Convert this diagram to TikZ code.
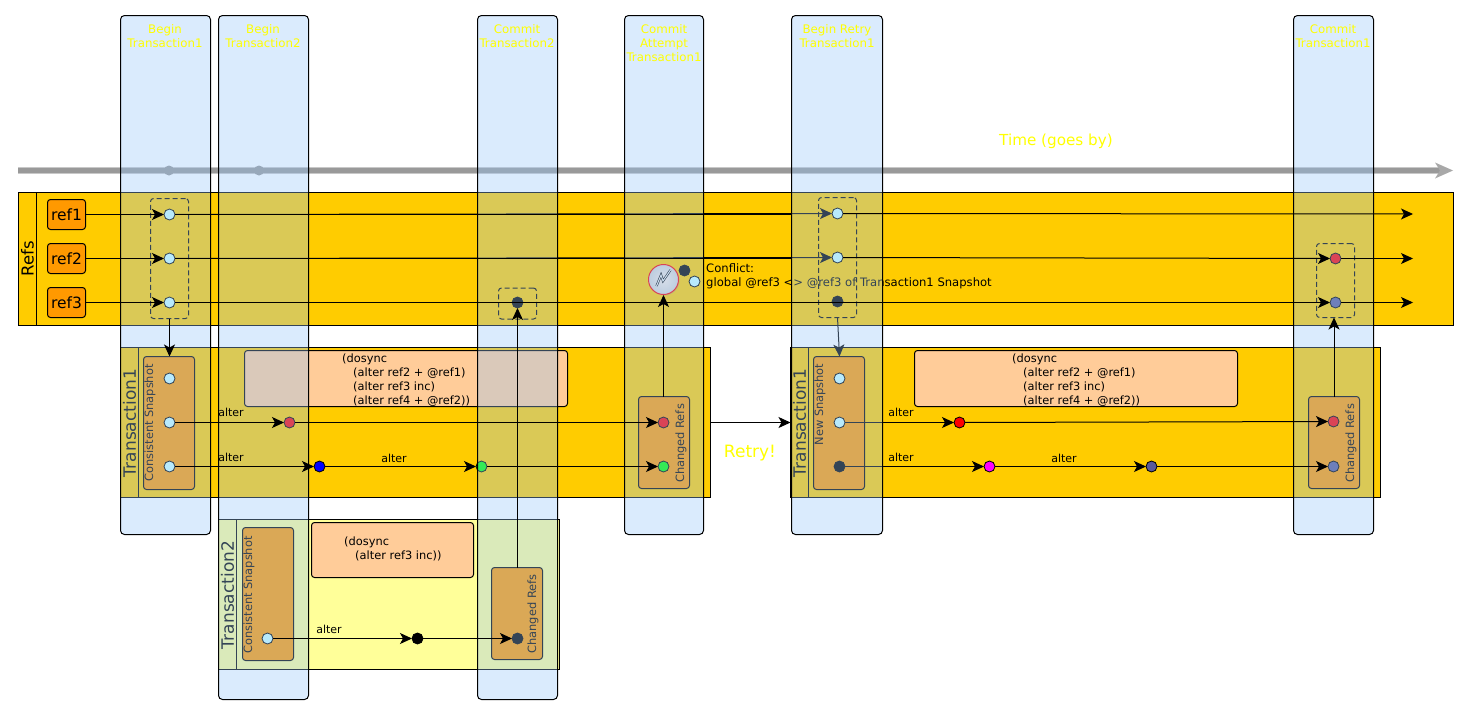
\documentclass[tikz,border=0pt]{standalone}
\usepackage{fontspec}
\setmainfont{DejaVu Sans}
\usepackage{xcolor}
\usepackage{tikz}
\usetikzlibrary{arrows.meta,shadows}

\definecolor{lanefill}{HTML}{FFCC00}
\definecolor{reffill}{HTML}{FF9900}
\definecolor{codefill}{HTML}{FFCC99}
\definecolor{laneyellow}{HTML}{FFFF99}
\definecolor{colfill}{RGB}{149,197,249}
\definecolor{dotlight}{HTML}{CCFFFF}
\definecolor{dotslate}{HTML}{5A5A9A}
\definecolor{dotmagenta}{RGB}{255,0,255}
\definecolor{textyellow}{RGB}{255,255,0}
\definecolor{timegray}{HTML}{999999}
\definecolor{timehalo}{HTML}{C8C8C8}

\tikzset{
    base/.style={inner sep=0pt,outer sep=0pt,anchor=north west,line width=1pt,draw=black},
    lane/.style={base,fill=lanefill},
    refbox/.style={base,fill=reffill,rounded corners=3pt,font=\fontsize{15.5}{15.5}\selectfont},
    groupbox/.style={base,fill=reffill,rounded corners=3pt},
    codebox/.style={base,fill=codefill,rounded corners=3pt},
    dashbox/.style={base,dashed,dash pattern=on 5pt off 3pt,rounded corners=3pt},
    colbox/.style={base,fill=colfill,fill opacity=0.35,rounded corners=4pt},
    coltitle/.style={textyellow,align=center,font=\fontsize{11.8}{14}\selectfont,inner sep=0pt},
    dot/.style={circle,draw=black,line width=0.8pt,minimum size=11pt,inner sep=0pt,outer sep=0pt,fill=#1},
    code/.style={align=left,anchor=north west,inner sep=0pt,font=\fontsize{11.4}{14}\selectfont},
    small/.style={inner sep=0pt,font=\fontsize{11}{14}\selectfont},
    sidetext/.style={rotate=90,inner sep=0pt,font=\fontsize{11.4}{11.4}\selectfont},
    lanetitle/.style={rotate=90,inner sep=0pt,font=\fontsize{17}{17}\selectfont},
    flow/.style={line width=1pt,-{Stealth[length=12pt,width=11pt,inset=3pt]}},
    timeline/.style={line width=#1,line cap=butt},
}

\begin{document}
\begin{tikzpicture}[x=1pt,y=-1pt]
    \useasboundingbox (0,0) rectangle (1472,715);

    % Time arrow
    \coordinate (timestart) at (18,170.5);
    \coordinate (timeneck) at (1440,170.5);
    \draw[timeline=7.5pt,timehalo] (timestart) -- (timeneck);
    \draw[timeline=5.5pt,timegray] (timestart) -- (timeneck);
    \fill[timegray!85] (1435,162.5) -- (1453,170.5) -- (1435,178.5) -- (1440,170.5) -- cycle;
    \node[circle,fill=timegray,minimum size=10pt,inner sep=0pt] (tick1) at (169,170.5) {};
    \node[circle,fill=timegray,minimum size=10pt,inner sep=0pt] (tick2) at (259,170.5) {};
    \node[textyellow,inner sep=0pt,font=\fontsize{15.2}{15.2}\selectfont] (timelabel) at (1056,141) {Time (goes by)};

    % Refs lane
    \node[lane,minimum width=1435pt,minimum height=133pt] (refs) at (18.5,192.5) {};
    \coordinate (refsheadtop) at (36.5,192.5);
    \coordinate (refsheadbot) at (36.5,325.5);
    \draw[line width=1pt] (refsheadtop) -- (refsheadbot);
    \node[lanetitle,font=\fontsize{16.5}{16.5}\selectfont] (refstitle) at (27.5,258.5) {Refs};
    \node[refbox,minimum width=38pt,minimum height=30pt] (ref1) at (47.5,199.5) {ref1};
    \node[refbox,minimum width=38pt,minimum height=30pt] (ref2) at (47.5,243.5) {ref2};
    \node[refbox,minimum width=38pt,minimum height=30pt] (ref3) at (47.5,287.5) {ref3};

    % Transaction1, first try
    \node[lane,minimum width=590pt,minimum height=150pt] (tx1) at (120.5,347.5) {};
    \coordinate (tx1headtop) at (138.5,347.5);
    \coordinate (tx1headbot) at (138.5,497.5);
    \draw[line width=1pt] (tx1headtop) -- (tx1headbot);
    \node[lanetitle] (tx1title) at (129.5,423) {Transaction1};
    \node[groupbox,minimum width=51pt,minimum height=133pt] (snap1) at (143.5,356.5) {};
    \node[sidetext] (snap1text) at (150,423) {Consistent Snapshot};
    \node[groupbox,minimum width=51pt,minimum height=92pt] (changed1) at (638.5,396.5) {};
    \node[sidetext] (changed1text) at (681,443.5) {Changed Refs};
    \node[codebox,minimum width=323pt,minimum height=56pt] (code1) at (244.5,350.5) {};
    \node[code] (code1text) at (342,353.5) {(dosync\\\hspace{11pt}(alter ref2 + @ref1)\\\hspace{11pt}(alter ref3 inc)\\\hspace{11pt}(alter ref4 + @ref2))};

    % Transaction1, retry
    \node[lane,minimum width=590pt,minimum height=150pt] (tx3) at (790.5,347.5) {};
    \coordinate (tx3headtop) at (808.5,347.5);
    \coordinate (tx3headbot) at (808.5,497.5);
    \draw[line width=1pt] (tx3headtop) -- (tx3headbot);
    \node[lanetitle] (tx3title) at (799.5,423) {Transaction1};
    \node[groupbox,minimum width=51pt,minimum height=133pt] (snap3) at (813.5,356.5) {};
    \node[sidetext] (snap3text) at (820,404.5) {New Snapshot};
    \node[groupbox,minimum width=51pt,minimum height=92pt] (changed3) at (1308.5,396.5) {};
    \node[sidetext] (changed3text) at (1351,443.5) {Changed Refs};
    \node[codebox,minimum width=323pt,minimum height=56pt] (code3) at (914.5,350.5) {};
    \node[code] (code3text) at (1012,353.5) {(dosync\\\hspace{11pt}(alter ref2 + @ref1)\\\hspace{11pt}(alter ref3 inc)\\\hspace{11pt}(alter ref4 + @ref2))};

    % Transaction2
    \node[base,fill=laneyellow,minimum width=341pt,minimum height=150pt] (tx2) at (218.5,519.5) {};
    \coordinate (tx2headtop) at (236.5,519.5);
    \coordinate (tx2headbot) at (236.5,669.5);
    \draw[line width=1pt] (tx2headtop) -- (tx2headbot);
    \node[lanetitle] (tx2title) at (227.5,595) {Transaction2};
    \node[groupbox,minimum width=51pt,minimum height=133pt] (snap2) at (242.5,527.5) {};
    \node[sidetext] (snap2text) at (249,595) {Consistent Snapshot};
    \node[groupbox,minimum width=51pt,minimum height=92pt] (changed2) at (491.5,567.5) {};
    \node[sidetext] (changed2text) at (533,614) {Changed Refs};
    \node[codebox,minimum width=162pt,minimum height=55pt] (code2) at (311.5,522.5) {};
    \node[code] (code2text) at (344,537) {(dosync\\\hspace{11pt}(alter ref3 inc))};

    % Dashed snapshots on the refs
    \node[dashbox,minimum width=38pt,minimum height=120pt] (snapa) at (150.5,198.5) {};
    \node[dashbox,minimum width=38pt,minimum height=31pt] (snapb) at (498.5,288) {};
    \node[dashbox,minimum width=38pt,minimum height=120pt] (snapc) at (818.5,197.5) {};
    \node[dashbox,minimum width=38pt,minimum height=74pt] (snapd) at (1316.5,243.5) {};

    % Dots on the refs
    \node[dot=dotlight] (a1) at (169.5,214.5) {};
    \node[dot=dotlight] (a2) at (169.5,258.5) {};
    \node[dot=dotlight] (a3) at (169.5,302.5) {};
    \node[dot=black] (b3) at (517.5,302.5) {};
    \node[dot=dotlight] (c1) at (837.5,213.5) {};
    \node[dot=dotlight] (c2) at (837.5,257.5) {};
    \node[dot=black] (c3) at (837.5,301.5) {};
    \node[dot=red] (d2) at (1335.5,258.5) {};
    \node[dot=dotslate] (d3) at (1335.5,302.5) {};
    \coordinate (end1) at (1413,214);
    \coordinate (end2) at (1413,258.5);
    \coordinate (end3) at (1413,302.5);

    % Conflict
    \node[circle,draw=red,line width=1pt,minimum size=30pt,inner sep=0pt,inner color={rgb,255:red,250;green,235;blue,225},outer color=gray!35,drop shadow={shadow xshift=1pt,shadow yshift=-1pt,opacity=0.3}] (conflict) at (663.5,279.5) {};
    \draw[line width=0.6pt,black,double=gray!15,double distance=1pt,line join=miter] (656.5,286) -- (661,275) -- (663,281) -- (670.5,270);
    \node[dot=black] (conflictdark) at (684.5,270.5) {};
    \node[dot=dotlight] (conflictlight) at (694.5,281.5) {};
    \node[code,font=\fontsize{11.6}{14}\selectfont] (conflicttext) at (706,263.5) {Conflict:\\global @ref3 <> @ref3 of Transaction1 Snapshot};

    % First try dots
    \node[dot=dotlight] (s11) at (169.5,378.5) {};
    \node[dot=dotlight] (s12) at (169.5,422.5) {};
    \node[dot=dotlight] (s13) at (169.5,466.5) {};
    \node[dot=red] (m12) at (289.5,422.5) {};
    \node[dot=blue] (m13) at (319.5,466.5) {};
    \node[dot=green] (n13) at (481.5,466.5) {};
    \node[dot=red] (e12) at (663.5,422.5) {};
    \node[dot=green] (e13) at (663.5,466.5) {};

    % Retry dots
    \node[dot=dotlight] (s31) at (839.5,378.5) {};
    \node[dot=dotlight] (s32) at (839.5,422.5) {};
    \node[dot=black] (s33) at (839.5,466.5) {};
    \node[dot=red] (m32) at (959.5,422.5) {};
    \node[dot=dotmagenta] (m33) at (989.5,466.5) {};
    \node[dot=dotslate] (n33) at (1151.5,466.5) {};
    \node[dot=red] (e32) at (1333.5,421.5) {};
    \node[dot=dotslate] (e33) at (1333.5,466.5) {};

    % Transaction2 dots
    \node[dot=dotlight] (s23) at (267.5,638.5) {};
    \node[dot=black] (m23) at (417.5,638.5) {};
    \node[dot=black] (e23) at (517.5,638.5) {};

    % Flows that the retry column tints
    \draw[flow] (a1) -- (c1);
    \draw[flow] (a2) -- (c2);
    \draw[flow] (s32) -- (m32);
    \draw[flow] (s33) -- (m33);
    \draw[flow] (snapc.south) -- (snap3.north -| s31);

    % Time columns
    \node[colbox,minimum width=90pt,minimum height=519pt] (col1) at (120.5,15.5) {};
    \node[colbox,minimum width=90pt,minimum height=684pt] (col2) at (218.5,15.5) {};
    \node[colbox,minimum width=80pt,minimum height=684pt] (col3) at (477.5,15.5) {};
    \node[colbox,minimum width=79pt,minimum height=519pt] (col4) at (624.5,15.5) {};
    \node[colbox,minimum width=91pt,minimum height=519pt] (col5) at (791.5,15.5) {};
    \node[colbox,minimum width=80pt,minimum height=519pt] (col6) at (1293.5,15.5) {};
    \node[coltitle,anchor=north] (title1) at (165,24) {Begin\\Transaction1};
    \node[coltitle,anchor=north] (title2) at (263,24) {Begin\\Transaction2};
    \node[coltitle,anchor=north] (title3) at (517,24) {Commit\\Transaction2};
    \node[coltitle,anchor=north] (title4) at (664,24) {Commit\\Attempt\\Transaction1};
    \node[coltitle,anchor=north] (title5) at (837,24) {Begin Retry\\Transaction1};
    \node[coltitle,anchor=north] (title6) at (1333,24) {Commit\\Transaction1};

    % Flows on top of the columns
    \draw[line width=1pt] (a1) -- (a1 -| col5.west);
    \draw[line width=1pt] (a2) -- (a2 -| col5.west);
    \draw[flow] (ref1) -- (a1);
    \draw[flow] (ref2) -- (a2);
    \draw[flow] (ref3) -- (a3);
    \draw[flow] (c1) -- (end1);
    \draw[flow] (c2) -- (d2);
    \draw[flow] (d2) -- (end2);
    \draw[flow] (a3) -- (d3);
    \draw[flow] (d3) -- (end3);
    \draw[flow] (s12) -- (m12);
    \draw[flow] (m12) -- (e12);
    \draw[flow] (s13) -- (m13);
    \draw[flow] (m13) -- (n13);
    \draw[flow] (n13) -- (e13);
    \draw[flow] (m32) -- (e32);
    \draw[flow] (m33) -- (n33);
    \draw[flow] (n33) -- (e33);
    \draw[flow] (s23) -- (m23);
    \draw[flow] (m23) -- (e23);
    \node[small] (alter11) at (231,412) {alter};
    \node[small] (alter12) at (231,457) {alter};
    \node[small] (alter13) at (394,458) {alter};
    \node[small] (alter31) at (901,412) {alter};
    \node[small] (alter32) at (901,457) {alter};
    \node[small] (alter33) at (1064,458) {alter};
    \node[small] (alter21) at (329,629) {alter};

    % Between the lanes
    \draw[flow] (snapa.south -| a3) -- (snap1.north -| a3);
    \draw[flow] (changed1.north -| conflict) -- (conflict.south);
    \draw[flow] (changed3.north) -- (changed3.north |- snapd.south);
    \draw[flow] (changed2.north -| b3) -- (b3);
    \draw[flow] (tx1.east |- e12) -- (tx3.west |- e12);
    \node[textyellow,inner sep=0pt,font=\fontsize{17}{17}\selectfont] (retry) at (750,453.5) {Retry!};
\end{tikzpicture}
\end{document}
